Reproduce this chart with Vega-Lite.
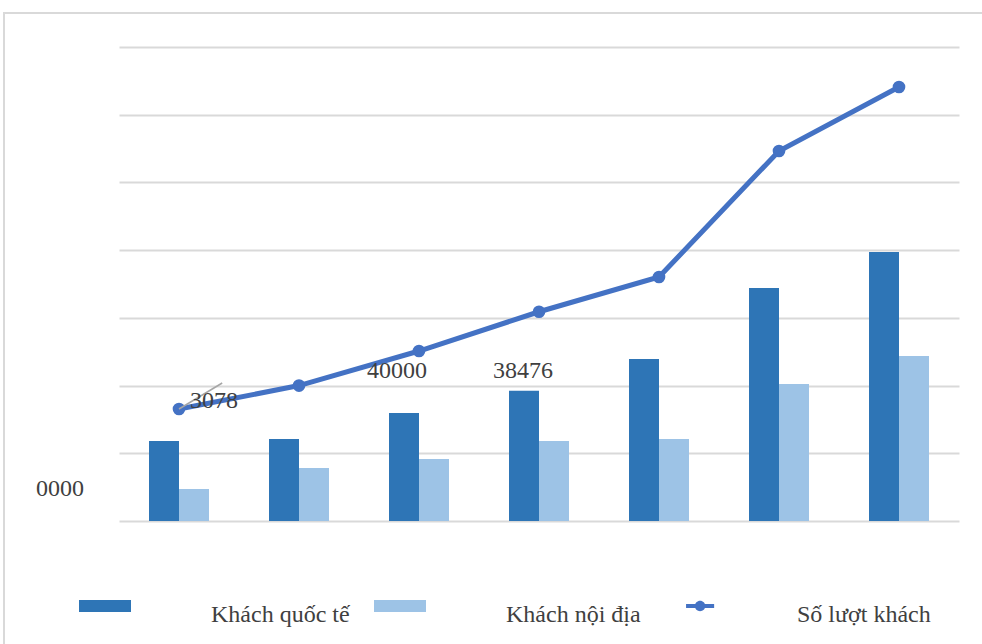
{
  "$schema": "https://vega.github.io/schema/vega-lite/v6.json",
  "width": 978,
  "height": 631,
  "autosize": {"type": "none"},
  "padding": {"left": 4, "top": 13, "right": 0, "bottom": 0},
  "background": "white",
  "config": {
    "view": {"stroke": "#d9d9d9", "strokeWidth": 2, "strokeDash": [978, 1609, 631, 1]},
    "font": "Liberation Serif"
  },
  "datasets": {
    "cot": [
      {"cat": "T1", "series": "Khách quốc tế", "value": 23630, "nhan": ""},
      {"cat": "T1", "series": "Khách nội địa", "value": 9450, "nhan": ""},
      {"cat": "T2", "series": "Khách quốc tế", "value": 24220, "nhan": ""},
      {"cat": "T2", "series": "Khách nội địa", "value": 15650, "nhan": ""},
      {"cat": "T3", "series": "Khách quốc tế", "value": 31900, "nhan": ""},
      {"cat": "T3", "series": "Khách nội địa", "value": 18310, "nhan": ""},
      {"cat": "T4", "series": "Khách quốc tế", "value": 38476, "nhan": "38476"},
      {"cat": "T4", "series": "Khách nội địa", "value": 23630, "nhan": ""},
      {"cat": "T5", "series": "Khách quốc tế", "value": 47850, "nhan": ""},
      {"cat": "T5", "series": "Khách nội địa", "value": 24220, "nhan": ""},
      {"cat": "T6", "series": "Khách quốc tế", "value": 68820, "nhan": ""},
      {"cat": "T6", "series": "Khách nội địa", "value": 40470, "nhan": ""},
      {"cat": "T7", "series": "Khách quốc tế", "value": 79450, "nhan": ""},
      {"cat": "T7", "series": "Khách nội địa", "value": 48740, "nhan": ""}
    ],
    "duong": [
      {"cat": "T1", "value": 33078, "nhan": "3078"},
      {"cat": "T2", "value": 40000, "nhan": "40000"},
      {"cat": "T3", "value": 50210, "nhan": ""},
      {"cat": "T4", "value": 61800, "nhan": ""},
      {"cat": "T5", "value": 72070, "nhan": ""},
      {"cat": "T6", "value": 109290, "nhan": ""},
      {"cat": "T7", "value": 128190, "nhan": ""}
    ],
    "le": [
      {"cat": "T1", "value": 9450, "nhan": "0000"}
    ]
  },
  "layer": [
    {
      "data": {"name": "cot"},
      "mark": {"type": "bar"},
      "encoding": {
        "x": {"field": "cat", "type": "nominal", "sort": null, "axis": null,
              "scale": {"range": [115, 955], "paddingInner": 0, "paddingOuter": 0}},
        "xOffset": {"field": "series", "type": "nominal", "sort": ["Khách quốc tế", "Khách nội địa"],
                    "scale": {"paddingInner": 0, "paddingOuter": 1.07}},
        "y": {"field": "value", "type": "quantitative",
              "scale": {"domain": [0, 140000], "range": [508, 34], "nice": false},
              "axis": {"values": [0, 20000, 40000, 60000, 80000, 100000, 120000, 140000],
                       "labels": false, "ticks": false, "domain": false, "title": null,
                       "grid": true, "gridColor": "#d9d9d9", "gridWidth": 2}},
        "color": {
          "field": "series", "type": "nominal",
          "scale": {"domain": ["Khách quốc tế", "Khách nội địa", "Số lượt khách"],
                    "range": ["#2E75B6", "#9DC3E6", "#4472C4"]},
          "legend": {
            "orient": "none", "legendX": 75, "legendY": 567,
            "direction": "horizontal", "title": null, "padding": 0,
            "labelFont": "Liberation Serif", "labelFontSize": 24, "labelColor": "#404040",
            "labelOffset": 80, "columnPadding": 24, "labelLimit": 400,
            "symbolSize": 2704, "symbolStrokeWidth": 0, "symbolOpacity": 1,
            "encode": {
              "symbols": {"update": {
                "shape": {"signal": "datum.value === 'Số lượt khách' ? 'M-0.19,-0.08H0.89V0.08H-0.19Z M0.55,0A0.2,0.2,0,1,1,0.15,0A0.2,0.2,0,1,1,0.55,0Z' : 'M-1,-0.23H1V0.23H-1Z'"},
                "fill": {"scale": "color", "field": "value"},
                "strokeWidth": {"value": 0},
                "opacity": {"value": 1}
              }},
              "labels": {"update": {"dy": {"value": 9}}}
            }
          }
        }
      }
    },
    {
      "data": {"name": "duong"},
      "mark": {"type": "line", "strokeWidth": 5},
      "encoding": {
        "x": {"field": "cat", "type": "nominal", "sort": null},
        "y": {"field": "value", "type": "quantitative"},
        "color": {"datum": "Số lượt khách"}
      }
    },
    {
      "data": {"name": "duong"},
      "mark": {"type": "point", "filled": true, "size": 160, "opacity": 1},
      "encoding": {
        "x": {"field": "cat", "type": "nominal", "sort": null},
        "y": {"field": "value", "type": "quantitative"},
        "color": {"datum": "Số lượt khách"}
      }
    },
    {
      "data": {"name": "duong"},
      "transform": [{"filter": "datum.cat === 'T1'"}],
      "mark": {"type": "rule", "color": "#a6a6a6", "strokeWidth": 1.5},
      "encoding": {
        "x": {"field": "cat", "type": "nominal", "sort": null},
        "y": {"field": "value", "type": "quantitative"},
        "x2": {"datum": "T1", "bandPosition": 0.86},
        "y2": {"datum": 40760}
      }
    },
    {
      "data": {"name": "duong"},
      "transform": [{"filter": "datum.cat === 'T1'"}],
      "mark": {"type": "text", "dx": 35, "dy": -8, "fontSize": 24, "font": "Liberation Serif", "color": "#404040"},
      "encoding": {
        "x": {"field": "cat", "type": "nominal", "sort": null},
        "y": {"field": "value", "type": "quantitative"},
        "text": {"field": "nhan"}
      }
    },
    {
      "data": {"name": "duong"},
      "transform": [{"filter": "datum.cat === 'T2'"}],
      "mark": {"type": "text", "dx": 98, "dy": -15, "fontSize": 24, "font": "Liberation Serif", "color": "#404040"},
      "encoding": {
        "x": {"field": "cat", "type": "nominal", "sort": null},
        "y": {"field": "value", "type": "quantitative"},
        "text": {"field": "nhan"}
      }
    },
    {
      "data": {"name": "cot"},
      "transform": [{"filter": "datum.nhan !== ''"}],
      "mark": {"type": "text", "dx": -1, "dy": -20, "fontSize": 24, "font": "Liberation Serif", "color": "#404040"},
      "encoding": {
        "x": {"field": "cat", "type": "nominal", "sort": null},
        "xOffset": {"field": "series", "type": "nominal", "sort": ["Khách quốc tế", "Khách nội địa"]},
        "y": {"field": "value", "type": "quantitative"},
        "text": {"field": "nhan"}
      }
    },
    {
      "data": {"name": "le"},
      "mark": {"type": "text", "dx": -119, "dy": 0, "fontSize": 24, "font": "Liberation Serif", "color": "#404040"},
      "encoding": {
        "x": {"field": "cat", "type": "nominal", "sort": null},
        "y": {"field": "value", "type": "quantitative"},
        "text": {"field": "nhan"}
      }
    }
  ]
}
